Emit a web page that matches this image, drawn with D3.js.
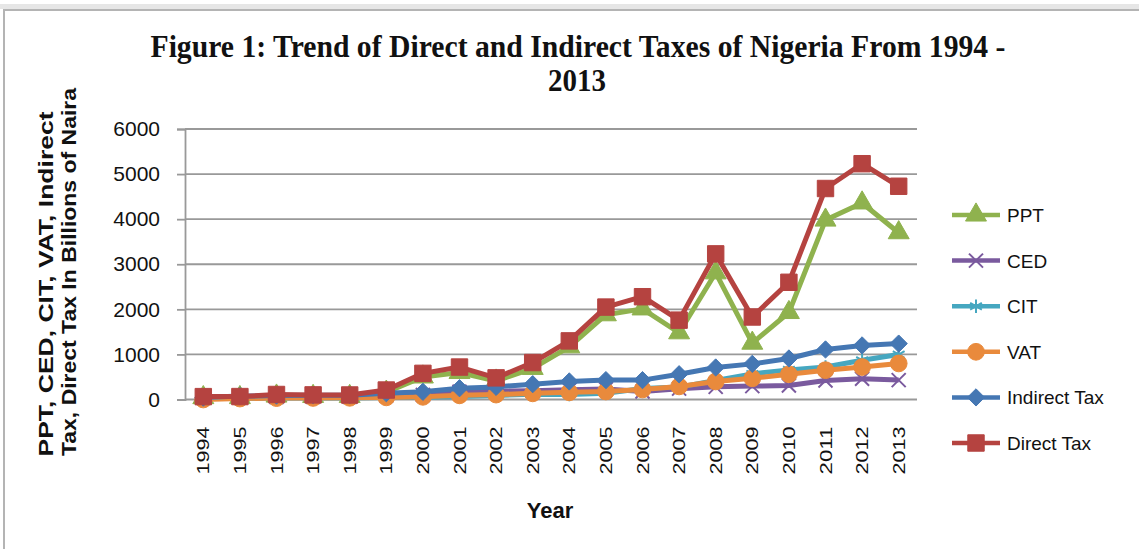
<!DOCTYPE html>
<html>

<head>
	<title>Figure 1: Trend of Direct and Indirect Taxes of Nigeria</title>
	<script src="https://cdn.jsdelivr.net/npm/d3@7/dist/d3.min.js"></script>
	<style>
		body { margin: 0; background: white; }
	</style>
</head>

<body>
	<svg id="chart" width="1139" height="549"></svg>

	<script>
		// values in billions of naira
		var years = ['1994', '1995', '1996', '1997', '1998', '1999', '2000', '2001', '2002', '2003',
			'2004', '2005', '2006', '2007', '2008', '2009', '2010', '2011', '2012', '2013'];
		var ppt = [42, 43, 77, 69, 68, 164, 500, 600, 410, 690, 1170, 1880, 2010, 1480, 2810, 1250, 1930, 3980, 4360, 3700];
		var ced = [42, 55, 55, 63, 58, 88, 102, 171, 181, 196, 217, 233, 178, 241, 281, 297, 309, 420, 460, 430];
		var cit = [22, 22, 34, 33, 32, 46, 51, 69, 89, 115, 113, 140, 245, 275, 420, 568, 657, 720, 870, 1000];
		var vat = [0, 21, 31, 34, 37, 47, 59, 92, 109, 136, 160, 178, 222, 290, 400, 470, 560, 650, 720, 800];
		var indirectTax = [42, 76, 86, 97, 95, 140, 170, 250, 280, 340, 400, 430, 430, 560, 710, 790, 910, 1110, 1200, 1240];
		var directTax = [64, 65, 111, 102, 100, 210, 580, 720, 480, 820, 1300, 2050, 2280, 1760, 3230, 1830, 2600, 4680, 5230, 4730];
		var yTicks = [0, 1000, 2000, 3000, 4000, 5000, 6000];

		var series = [
			{ name: 'PPT', values: ppt, color: '#8fb24e', symbol: d3.symbolTriangle, size: 190, fill: true },
			{ name: 'CED', values: ced, color: '#7a5a9e', symbol: d3.symbolTimes, size: 130, fill: false },
			{ name: 'CIT', values: cit, color: '#46a7c0', symbol: d3.symbolAsterisk, size: 130, fill: false },
			{ name: 'VAT', values: vat, color: '#e98a3c', symbol: d3.symbolCircle, size: 220, fill: true },
			{ name: 'Indirect Tax', values: indirectTax, color: '#4577b3', symbol: d3.symbolDiamond2, size: 190, fill: true },
			{ name: 'Direct Tax', values: directTax, color: '#b54340', symbol: d3.symbolSquare, size: 270, fill: true }
		];

		var svg = d3.select('#chart');

		// chart area frame
		svg.append('rect')
			.attr('x', 4).attr('y', 10)
			.attr('width', 1140).attr('height', 545)
			.attr('fill', 'white')
			.attr('stroke', '#b4b4b4')
			.attr('stroke-width', 2);
		svg.append('rect')
			.attr('x', 0).attr('y', 4)
			.attr('width', 1139).attr('height', 5)
			.attr('fill', '#e6e6e6');

		var x = d3.scaleBand()
			.domain(years)
			.range([185, 917]);

		var y = d3.scaleLinear()
			.domain([0, 6000])
			.range([399.5, 129]);

		var cx = d => x(d) + x.bandwidth() / 2;

		// gridlines
		svg.append('g')
			.selectAll('line')
			.data(yTicks)
			.enter()
			.append('line')
			.attr('x1', 185).attr('x2', 917)
			.attr('y1', d => y(d)).attr('y2', d => y(d))
			.attr('stroke', '#999')
			.attr('stroke-width', 1.8);

		// y axis
		var yAxis = svg.append('g')
			.attr('transform', 'translate(185,0)')
			.call(d3.axisLeft(y).tickValues(yTicks).tickSize(8).tickPadding(17).tickFormat(d3.format('d')));
		yAxis.select('.domain').attr('stroke', '#999').attr('stroke-width', 1.8);
		yAxis.selectAll('.tick line').attr('stroke', '#999').attr('stroke-width', 1.8);
		yAxis.selectAll('text')
			.attr('fill', '#111')
			.style('font-family', '"Liberation Sans", Arial, sans-serif')
			.style('font-size', '21px');

		// x axis
		var xAxis = svg.append('g')
			.attr('transform', 'translate(0,399.5)')
			.call(d3.axisBottom(x).tickSize(0));
		xAxis.select('.domain').remove();
		xAxis.selectAll('text')
			.attr('transform', 'rotate(-90)')
			.attr('x', -27)
			.attr('y', 6)
			.attr('dy', 0)
			.attr('text-anchor', 'end')
			.attr('textLength', 48)
			.attr('lengthAdjust', 'spacingAndGlyphs')
			.attr('fill', '#111')
			.style('font-family', '"Liberation Sans", Arial, sans-serif')
			.style('font-size', '16.5px');

		// lines and markers, last series drawn on top
		var line = d3.line()
			.x((d, i) => cx(years[i]))
			.y(d => y(d));

		series.forEach(s => {
			svg.append('path')
				.datum(s.values)
				.attr('d', line)
				.attr('fill', 'none')
				.attr('stroke', s.color)
				.attr('stroke-width', 5)
				.attr('stroke-linejoin', 'round');

			svg.append('g')
				.selectAll('path')
				.data(s.values)
				.enter()
				.append('path')
				.attr('transform', (d, i) => 'translate(' + cx(years[i]) + ',' + y(d) + ')')
				.attr('d', d3.symbol().type(s.symbol).size(s.size))
				.attr('fill', s.fill ? s.color : 'none')
				.attr('stroke', s.color)
				.attr('stroke-width', s.fill ? 1 : 2);
		});

		// legend
		var legend = svg.append('g')
			.selectAll('g')
			.data(series)
			.enter()
			.append('g')
			.attr('transform', (d, i) => 'translate(952,' + (215 + i * 45.6) + ')');

		legend.append('line')
			.attr('x1', 0).attr('x2', 48)
			.attr('stroke', d => d.color)
			.attr('stroke-width', 4.5);

		legend.append('path')
			.attr('transform', 'translate(24,0)')
			.attr('d', d => d3.symbol().type(d.symbol).size(d.size)())
			.attr('fill', d => d.fill ? d.color : 'none')
			.attr('stroke', d => d.color)
			.attr('stroke-width', d => d.fill ? 1 : 2);

		legend.append('text')
			.attr('x', 55)
			.attr('y', 7)
			.attr('fill', '#111')
			.style('font-family', '"Liberation Sans", Arial, sans-serif')
			.style('font-size', '19px')
			.text(d => d.name);

		// titles
		var title = svg.append('text')
			.attr('text-anchor', 'middle')
			.attr('fill', '#111')
			.style('font-family', '"Liberation Serif", "Times New Roman", serif')
			.style('font-weight', 'bold')
			.style('font-size', '31px');
		title.append('tspan')
			.attr('x', 578).attr('y', 57)
			.attr('textLength', 855)
			.attr('lengthAdjust', 'spacingAndGlyphs')
			.text('Figure 1: Trend of Direct and Indirect Taxes of Nigeria From 1994 -');
		title.append('tspan')
			.attr('x', 577).attr('y', 91)
			.attr('textLength', 58)
			.attr('lengthAdjust', 'spacingAndGlyphs')
			.text('2013');

		svg.append('text')
			.attr('x', 550).attr('y', 518)
			.attr('text-anchor', 'middle')
			.attr('fill', '#111')
			.style('font-family', '"Liberation Sans", Arial, sans-serif')
			.style('font-weight', 'bold')
			.style('font-size', '22px')
			.text('Year');

		svg.append('text')
			.attr('transform', 'translate(53,284) rotate(-90)')
			.attr('text-anchor', 'middle')
			.attr('textLength', 345)
			.attr('lengthAdjust', 'spacingAndGlyphs')
			.attr('fill', '#111')
			.style('font-family', '"Liberation Sans", Arial, sans-serif')
			.style('font-weight', 'bold')
			.style('font-size', '20px')
			.text('PPT, CED, CIT, VAT, Indirect');

		svg.append('text')
			.attr('transform', 'translate(76,272) rotate(-90)')
			.attr('text-anchor', 'middle')
			.attr('textLength', 368)
			.attr('lengthAdjust', 'spacingAndGlyphs')
			.attr('fill', '#111')
			.style('font-family', '"Liberation Sans", Arial, sans-serif')
			.style('font-weight', 'bold')
			.style('font-size', '20px')
			.text('Tax, Direct Tax In Billions of Naira');
	</script>
</body>

</html>
